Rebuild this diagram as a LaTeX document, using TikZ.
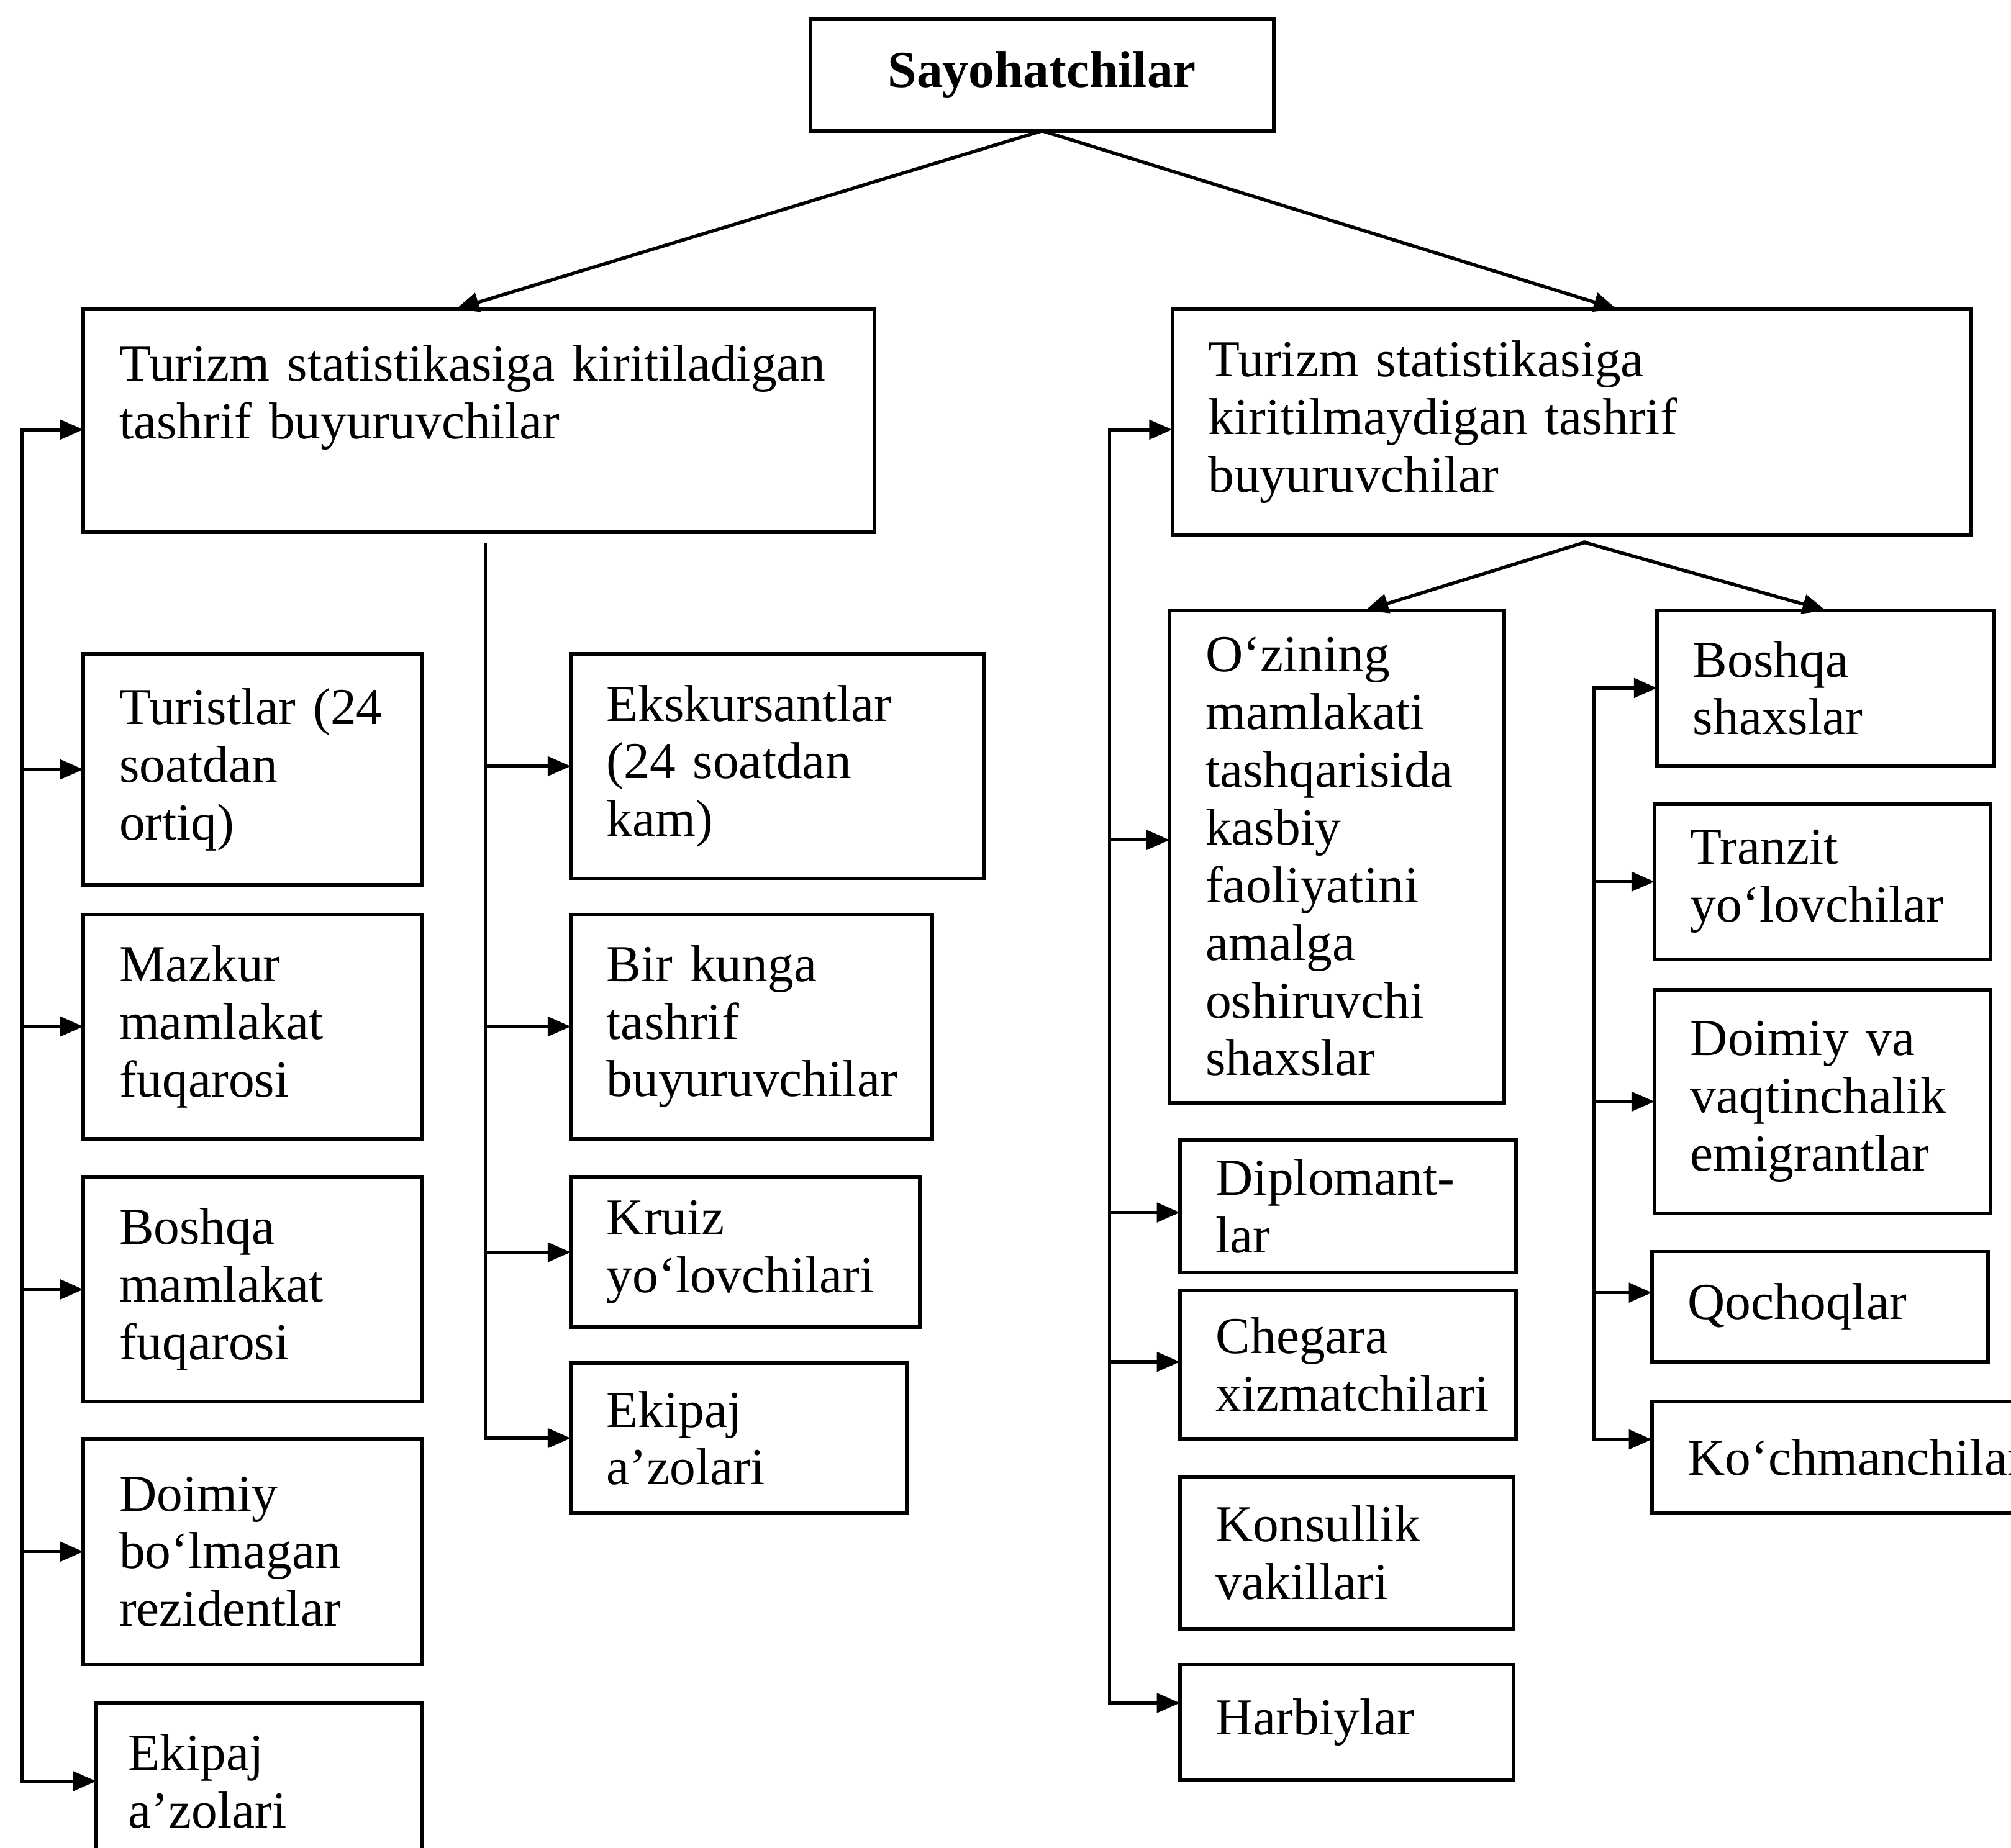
\documentclass[tikz,border=0pt]{standalone}
\usepackage{fontspec}
\setmainfont{Liberation Serif}
\usetikzlibrary{positioning,calc,arrows.meta}
\hyphenpenalty=10000
\exhyphenpenalty=10000

\tikzset{
  box/.style 2 args={draw, line width=1.6pt, anchor=north west, align=left,
    inner xsep=0.56cm, inner ysep=0pt, outer sep=0pt,
    minimum width=#1*0.02cm, minimum height=#2*0.02cm,
    /utils/exec={\pgfmathsetlengthmacro\boxtw{#1*0.02cm-1.12cm}}, text width=\boxtw,
    font=\fontsize{23}{25.6}\selectfont},
  title/.style={draw, line width=1.6pt, anchor=north west, outer sep=0pt,
    minimum width=361*0.02cm, minimum height=87*0.02cm,
    font=\fontsize{23}{25.6}\selectfont\bfseries},
  conn/.style={line width=1.5pt, line cap=rect},
  arr/.style={conn, -{Triangle[length=0.36cm,width=0.3cm]}},
}

\begin{document}
\begin{tikzpicture}[x=0.02cm, y=-0.02cm]
\useasboundingbox (0,0) rectangle (1568,1441);

% top
\node[title] (top) at (632,15) {Sayohatchilar};

% two main groups
\node[box={617}{174}] (L) at (65,241) {Turizm~statistikasiga~kiritiladigan\\ tashrif~buyuruvchilar\\ \mbox{}};
\node[box={623}{176}] (R) at (914,241) {Turizm~statistikasiga\\ kiritilmaydigan~tashrif\\ buyuruvchilar};

% left column
\node[box={264}{180}] (tur) at (65,510) {Turistlar~(24\\ soatdan\\ ortiq)};
\node[box={264}{175}] (maz) at (65,713) {Mazkur\\ mamlakat\\ fuqarosi};
\node[box={264}{175}] (bosh) at (65,918) {Boshqa\\ mamlakat\\ fuqarosi};
\node[box={264}{176}] (doim) at (65,1122) {Doimiy\\ bo‘lmagan\\ rezidentlar};
\node[box={254}{122}, inner xsep=0.5cm, text width=4.08cm] (ekA) at (75,1328) {Ekipaj\\ a’zolari};

% middle column
\node[box={322}{175}] (eks) at (445,510) {Ekskursantlar\\ (24~soatdan\\ kam)};
\node[box={282}{175}] (bir) at (445,713) {Bir~kunga\\ tashrif\\ buyuruvchilar};
\node[box={272}{117}] (kruiz) at (445,918) {Kruiz\\ yo‘lovchilari};
\node[box={262}{117}] (ekB) at (445,1063) {Ekipaj\\ a’zolari};

% right group, first column
\node[box={261}{384}] (ozi) at (912,476) {O‘zining\\ mamlakati\\ tashqarisida\\ kasbiy\\ faoliyatini\\ amalga\\ oshiruvchi\\ shaxslar};
\node[box={262}{103}] (dip) at (920,889) {Diplomant-\\ lar};
\node[box={262}{116}] (cheg) at (920,1006) {Chegara\\ xizmatchilari};
\node[box={260}{118}] (kons) at (920,1152) {Konsullik\\ vakillari};
\node[box={260}{90}] (harb) at (920,1298) {Harbiylar};

% right group, second column
\node[box={263}{121}] (bsh) at (1292,476) {Boshqa\\ shaxslar};
\node[box={262}{121}] (tran) at (1290,627) {Tranzit\\ yo‘lovchilar};
\node[box={262}{174}] (dva) at (1290,772) {Doimiy~va\\ vaqtinchalik\\ emigrantlar};
\node[box={262}{86}] (qoch) at (1288,976) {Qochoqlar};
\node[box={340}{87}] (koch) at (1288,1093) {Ko‘chmanchilar};

% branches
\draw[arr] (top.south) -- ($(L.north)+(-18,0)$);
\draw[arr] (top.south) -- ($(R.north)+(35,0)$);
\coordinate (rs) at ($(R.south)+(10,6)$);
\draw[arr] (rs) -- ($(ozi.north)+(22,0)$);
\draw[arr] (rs) -- (bsh.north);

% buses
\coordinate (lbus) at (17,0);
\coordinate (mbus) at ($(L.south)+(5,10)$);
\coordinate (rbus) at (865,0);
\coordinate (rrbus) at (1243,0);

\foreach \n/\d in {L/7,tur/0,maz/0,bosh/0,doim/0,ekA/0}
  \draw[arr] (lbus |- \n.west) ++(0,\d) coordinate (lb-\n) -- ($(\n.west)+(0,\d)$);
\draw[conn] (lb-L) -- (lb-ekA);

\foreach \n in {eks,bir,kruiz,ekB}
  \draw[arr] (mbus |- \n.west) coordinate (mb-\n) -- (\n.west);
\draw[conn] (mbus) -- (mb-ekB);

\foreach \n/\d in {R/6,ozi/-13,dip/5,cheg/-2,harb/-15}
  \draw[arr] (rbus |- \n.west) ++(0,\d) coordinate (rb-\n) -- ($(\n.west)+(0,\d)$);
\draw[conn] (rb-R) -- (rb-harb);

\foreach \n/\d in {bsh/0,tran/0,dva/0,qoch/-11,koch/-14}
  \draw[arr] (rrbus |- \n.west) ++(0,\d) coordinate (rr-\n) -- ($(\n.west)+(0,\d)$);
\draw[conn] (rr-bsh) -- (rr-koch);
\end{tikzpicture}
\end{document}
